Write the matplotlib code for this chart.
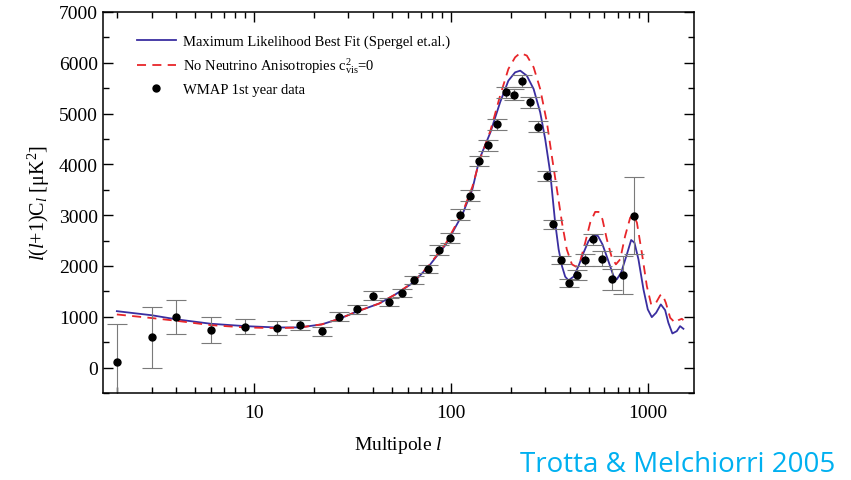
import numpy as np
import matplotlib
matplotlib.use("Agg")
import matplotlib.pyplot as plt
from matplotlib.lines import Line2D
from matplotlib.ticker import FixedLocator, LogLocator, NullFormatter, MultipleLocator

plt.rcParams['font.family'] = ['Liberation Serif', 'DejaVu Serif']
plt.rcParams['mathtext.fontset'] = 'custom'
plt.rcParams['mathtext.rm'] = 'Liberation Serif'
plt.rcParams['mathtext.it'] = 'Liberation Serif:italic'

# WMAP 1st year binned data
ell_data = [2, 3, 4, 6, 9, 13, 17, 22, 27, 33, 40, 48, 56, 65, 76, 87, 98, 111,
            124, 139, 154, 171, 190, 209, 230, 252, 277, 305, 330, 362, 397,
            434, 479, 527, 582, 656, 749, 849]
cl_data = [105, 592, 992, 743, 808, 776, 835, 710, 1000, 1144, 1414, 1288, 1466,
           1722, 1939, 2308, 2544, 3012, 3387, 4063, 4379, 4793, 5418, 5371,
           5647, 5220, 4740, 3767, 2820, 2110, 1657, 1821, 2116, 2525, 2144,
           1736, 1821, 2992]
cl_err = [760, 600, 330, 250, 140, 140, 100, 95, 90, 95, 85, 85, 85, 85, 85,
          95, 100, 100, 100, 100, 110, 110, 110, 110, 120, 110, 110, 100, 90,
          80, 80, 90, 110, 110, 150, 200, 370, 760]

# Maximum likelihood best fit (Spergel et al.)
ell_fit = [2, 3, 4, 6, 9, 13, 17, 22, 27, 33,
           43, 52, 64, 77, 94, 114, 128, 139, 158, 177,
           195, 211, 224, 242, 262, 283, 300, 318, 337, 351,
           365, 379, 394, 418, 443, 470, 498, 528, 556, 586,
           624, 667, 693, 729, 780, 820, 852, 893, 947, 996,
           1044, 1098, 1160, 1220, 1267, 1328, 1398, 1453, 1511]
cl_fit = [1110, 1030, 950, 862, 815, 789, 790, 850, 960, 1100,
          1260, 1440, 1670, 1998, 2426, 3018, 3511, 4103, 4629, 5221,
          5648, 5812, 5845, 5745, 5483, 5023, 4497, 3840, 2854, 2327,
          1998, 1789, 1716, 1789, 1998, 2262, 2491, 2604, 2590, 2426,
          2130, 1801, 1736, 1868, 2229, 2511, 2459, 2130, 1538, 1144,
          992, 1079, 1243, 1130, 882, 671, 716, 815, 763]

# No neutrino anisotropies, c_vis^2 = 0
ell_nonu = [2, 3, 4, 6, 9, 13, 17, 22, 27, 33,
            43, 52, 64, 77, 94, 114, 128, 139, 158, 177,
            195, 211, 224, 242, 262, 283, 306, 324, 344, 365,
            386, 410, 430, 452, 479, 508, 538, 560, 586, 617,
            654, 686, 721, 764, 811, 842, 877, 929, 985, 1036,
            1085, 1151, 1182, 1230, 1294, 1371, 1426, 1483, 1511]
cl_nonu = [1045, 975, 921, 835, 789, 776, 789, 850, 960, 1100,
           1260, 1440, 1680, 2010, 2450, 3050, 3560, 4069, 4661, 5351,
           5878, 6108, 6193, 6141, 5911, 5483, 4826, 4168, 3511, 2854,
           2327, 2032, 1986, 2097, 2459, 2854, 3064, 3064, 2919, 2525,
           2163, 2032, 2130, 2590, 2952, 2998, 2854, 2262, 1604, 1243,
           1243, 1420, 1440, 1276, 980, 882, 933, 960, 933]

fig = plt.figure(figsize=(8.51, 4.81), dpi=100)
ax = fig.add_axes([0.121, 0.181, 0.6945, 0.792])

blue = '#3a2ea0'
red = '#e8262a'
ax.plot(ell_fit, cl_fit, color=blue, lw=1.3)
ax.plot(ell_nonu, cl_nonu, color=red, lw=1.3, dashes=(5, 3.5))
ax.errorbar(ell_data, cl_data, yerr=cl_err, fmt='o', color='black', ms=5,
            ecolor='#7a7a7a', elinewidth=0.8, capsize=7, capthick=0.8)

ax.set_xscale('log')
ax.set_xlim(1.7, 1710)
ax.set_ylim(-500, 7000)
ax.xaxis.set_major_locator(FixedLocator([10, 100, 1000]))
ax.set_xticklabels(['10', '100', '1000'])
ax.xaxis.set_minor_locator(LogLocator(base=10, subs=np.arange(2, 10)))
ax.xaxis.set_minor_formatter(NullFormatter())
ax.yaxis.set_major_locator(MultipleLocator(1000))
ax.yaxis.set_minor_locator(MultipleLocator(500))

ax.tick_params(which='both', direction='in', top=True, right=True,
               labelsize=14, width=1.0)
ax.tick_params(which='major', length=7)
ax.tick_params(which='minor', length=4)
ax.tick_params(axis='x', pad=8)
for s in ax.spines.values():
    s.set_linewidth(1.1)

ax.set_xlabel(r'Multipole $l$', fontsize=14, labelpad=9)
ax.set_ylabel(r'$l(l{+}1)\mathrm{C}_{l}\ [\mathrm{\mu K}^{2}]$', fontsize=14.5,
              labelpad=5)

handles = [
    Line2D([], [], color=blue, lw=1.3),
    Line2D([], [], color=red, lw=1.3, dashes=(5, 3.5)),
    Line2D([], [], color='black', marker='o', ms=5, ls='none'),
]
labels = [
    'Maximum Likelihood Best Fit (Spergel et.al.)',
    r'No Neutrino Anisotropies $\mathrm{c}^{2}_{\mathrm{vis}}$=0',
    'WMAP 1st year data',
]
ax.legend(handles, labels, loc='upper left', frameon=False, fontsize=10.5,
          handlelength=2.7, handletextpad=0.5,
          bbox_to_anchor=(0.035, 0.975), labelspacing=0.5)

fig.text(0.981, 0.018, 'Trotta & Melchiorri 2005', color='#00b0f0',
         fontsize=20, family=['Open Sans', 'DejaVu Sans'], ha='right',
         va='baseline')

fig.savefig('out.png', dpi=100)
